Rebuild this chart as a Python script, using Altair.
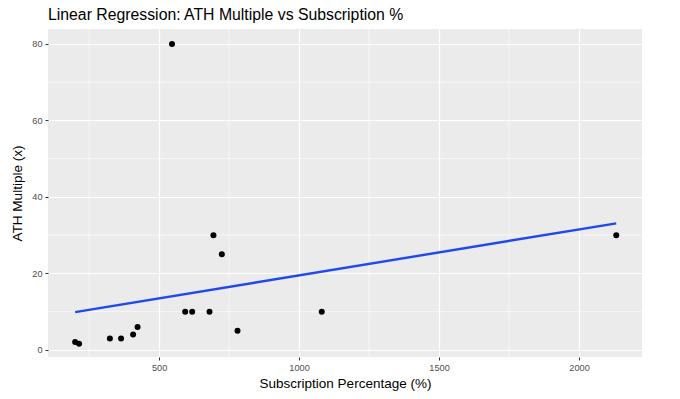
import altair as alt
import pandas as pd

subscription = [200, 214, 324, 364, 407, 423, 593, 618, 680, 694, 724, 780, 1081, 546, 2133]
ath_multiple = [2.1, 1.6, 3, 3, 4, 6, 10, 10, 10, 30, 25, 5, 10, 80, 30]

x_major = [500, 1000, 1500, 2000]
x_minor = [250, 750, 1250, 1750]
y_major = [0, 20, 40, 60, 80]
y_minor = [10, 30, 50, 70]

df = pd.DataFrame({"sub": subscription, "ath": ath_multiple})

FONT = "Liberation Sans"
xdom = [103, 2225]
ydom = [-1.85, 83.9]
xs = alt.Scale(domain=xdom, nice=False, zero=False)
ys = alt.Scale(domain=ydom, nice=False, zero=False)

xaxis = alt.Axis(values=x_major, title="Subscription Percentage (%)", format="d",
                 grid=True, gridColor="white", gridWidth=1.2,
                 domain=False, tickColor="#333333", tickSize=3,
                 labelColor="#4D4D4D", labelFontSize=9.2, labelPadding=3,
                 titleFontSize=13.5, titleFontWeight="normal", titleColor="black",
                 titlePadding=4, labelFont=FONT, titleFont=FONT)
yaxis = alt.Axis(values=y_major, title="ATH Multiple (x)", format="d",
                 grid=True, gridColor="white", gridWidth=1.2,
                 domain=False, tickColor="#333333", tickSize=3,
                 labelColor="#4D4D4D", labelFontSize=9.2, labelPadding=3,
                 titleFontSize=13.5, titleFontWeight="normal", titleColor="black",
                 titlePadding=7, labelFont=FONT, titleFont=FONT)

minor_x = alt.Chart(pd.DataFrame({"v": x_minor})).mark_rule(color="white", strokeWidth=0.6).encode(
    x=alt.X("v:Q", scale=xs, axis=xaxis)
)
minor_y = alt.Chart(pd.DataFrame({"v": y_minor})).mark_rule(color="white", strokeWidth=0.6).encode(
    y=alt.Y("v:Q", scale=ys, axis=yaxis)
)

base = alt.Chart(df)
points = base.mark_circle(color="black", size=36, opacity=1).encode(
    x=alt.X("sub:Q", scale=xs, axis=xaxis),
    y=alt.Y("ath:Q", scale=ys, axis=yaxis),
)

line = base.transform_regression("sub", "ath").mark_line(color="#1F48F0", strokeWidth=2.4).encode(
    x=alt.X("sub:Q", scale=xs, axis=xaxis),
    y=alt.Y("ath:Q", scale=ys, axis=yaxis),
)

chart = alt.layer(minor_x, minor_y, points, line).properties(
    width=594,
    height=328,
    title=alt.TitleParams("Linear Regression: ATH Multiple vs Subscription %",
                          anchor="start", frame="group", fontSize=15.8, fontWeight="normal",
                          font=FONT, color="black", offset=7, baseline="alphabetic", dy=14),
    autosize=alt.AutoSizeParams(type="none"),
    padding={"left": 40, "top": 21, "right": 30, "bottom": 34},
).configure_view(fill="#EBEBEB", stroke=None)

chart.save("out.html", embed_options={"renderer": "svg", "actions": False})
